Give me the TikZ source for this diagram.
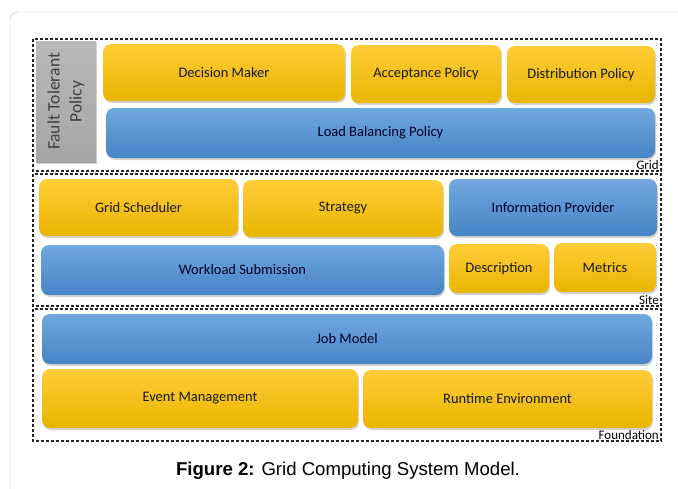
\documentclass[tikz,border=0pt]{standalone}
\usepackage{fontspec}
\setmainfont{Carlito}
\newfontfamily\capfont{Liberation Sans}
\usepackage{tikz}
\usetikzlibrary{positioning,shadows}
\definecolor{goldtop}{HTML}{FFCD38}
\definecolor{goldmid}{HTML}{FFC300}
\definecolor{goldbot}{HTML}{E9B500}
\definecolor{bluetop}{HTML}{70A8DE}
\definecolor{bluemid}{HTML}{5A9BDA}
\definecolor{bluebot}{HTML}{4784C6}
\tikzset{tile/.style={rectangle,rounded corners=8pt,inner sep=2pt,
        font=\fontsize{14.5}{16}\selectfont,text=black!90,
        drop shadow={shadow xshift=1pt,shadow yshift=-2pt,opacity=.35}},
        goldbox/.style={tile,top color=goldtop,middle color=goldmid,bottom color=goldbot},
        bluebox/.style={tile,top color=bluetop,middle color=bluemid,bottom color=bluebot,text=black!85!blue},
        faultbox/.style={rectangle,inner sep=2pt,top color=gray!55,bottom color=gray!70,
        text=black!75,font=\fontsize{17.5}{22}\selectfont,align=center,
        drop shadow={shadow xshift=1pt,shadow yshift=-2pt,opacity=.35}},
        layer/.style={draw=black!85,densely dashed,line width=1.2pt},
        layerlabel/.style={anchor=south east,inner sep=1pt,font=\fontsize{13}{13}\selectfont}}
\begin{document}
\begin{tikzpicture}[x=1pt,y=-1pt]
	\useasboundingbox (0,0) rectangle (678,488);
	\clip (0,0) rectangle (678,488);
	\draw[gray!60,rounded corners=8pt] (10,12) rectangle (720,520);

	% layers
	\draw[layer] (33,39) rectangle (661,171);
	\draw[layer] (33,174) rectangle (661,306);
	\draw[layer] (33,309) rectangle (661,441);
	\node[layerlabel] (gridlbl) at (660,171) {Grid};
	\node[layerlabel] (sitelbl) at (660,306) {Site};
	\node[layerlabel] (foundlbl) at (660,441) {Foundation};

	% grid layer
	\node[faultbox,minimum width=121pt,minimum height=60pt,rotate=90] (ft) at (66,101.5) {Fault Tolerant\\Policy};
	\node[goldbox,minimum width=242pt,minimum height=57pt] (dm) at (224,72.5) {Decision Maker};
	\node[goldbox,minimum width=150pt,minimum height=58pt] (ap) at (426,74) {Acceptance Policy};
	\node[goldbox,minimum width=148pt,minimum height=57pt] (dp) at (581,74.5) {Distribution Policy};
	\node[bluebox,minimum width=549pt,minimum height=50pt] (lb) at (380.5,133) {Load Balancing Policy};

	% site layer
	\node[goldbox,minimum width=199pt,minimum height=57pt] (gs) at (138.5,207.5) {Grid Scheduler};
	\node[goldbox,minimum width=200pt,minimum height=57pt] (st) at (343,208.5) {Strategy};
	\node[bluebox,minimum width=208pt,minimum height=57pt] (ip) at (553,207.5) {Information Provider};
	\node[bluebox,minimum width=403pt,minimum height=50pt] (ws) at (242.5,270) {Workload Submission};
	\node[goldbox,minimum width=100pt,minimum height=49pt] (de) at (499,268.5) {Description};
	\node[goldbox,minimum width=102pt,minimum height=49pt] (me) at (605,267.5) {Metrics};

	% foundation layer
	\node[bluebox,minimum width=610pt,minimum height=50pt] (jm) at (347,339) {Job Model};
	\node[goldbox,minimum width=316pt,minimum height=59pt] (em) at (200,398.5) {Event Management};
	\node[goldbox,minimum width=289pt,minimum height=58pt] (re) at (507.5,399) {Runtime Environment};

	\node[font=\capfont\fontsize{18.6}{19}\selectfont,anchor=base] (cap) at (348,475) {\textbf{Figure 2:} Grid Computing System Model.};
\end{tikzpicture}
\end{document}
